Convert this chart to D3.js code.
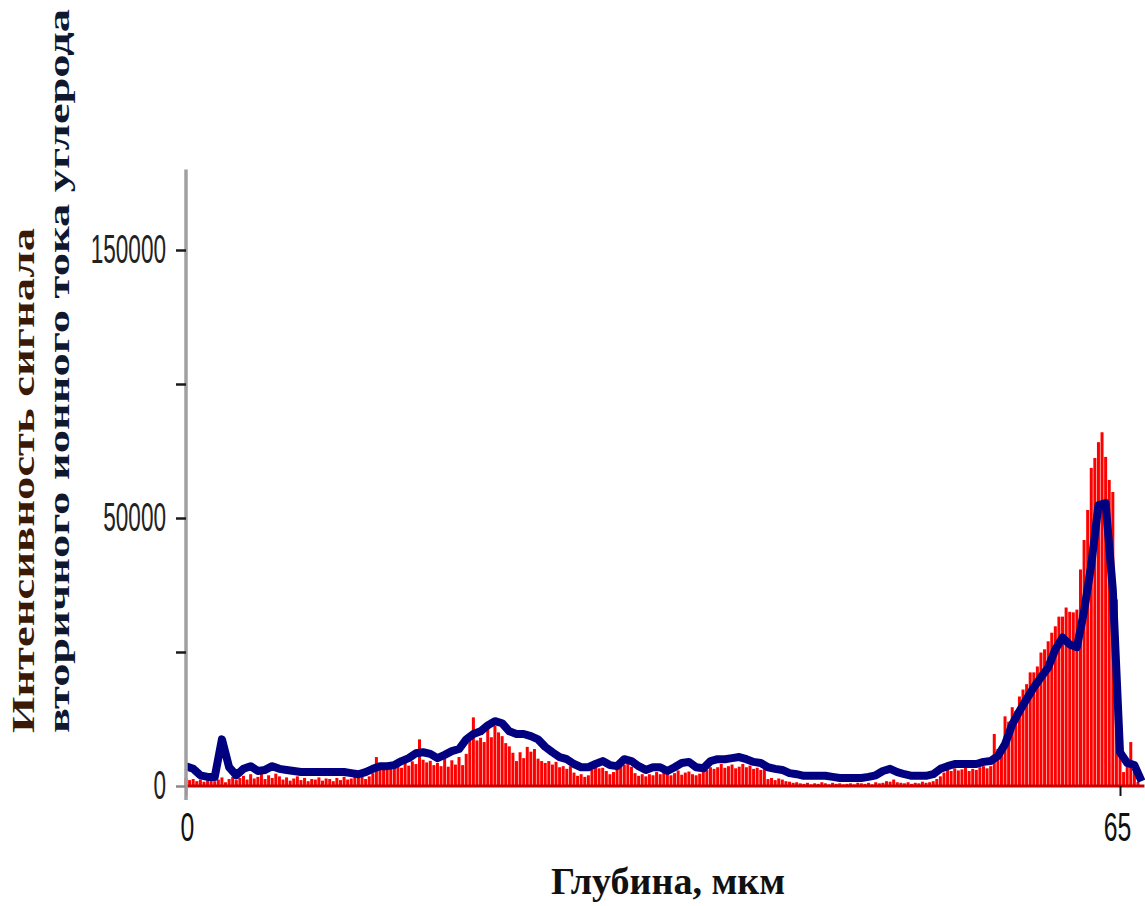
<!DOCTYPE html>
<html>
<head>
<meta charset="utf-8">
<script src="https://cdn.jsdelivr.net/npm/d3@7"></script>
<style>
  html, body { margin: 0; padding: 0; background: #fff; }
  svg { display: block; }
</style>
</head>
<body>
<svg id="chart" width="1145" height="906"></svg>
<script>
// Depth axis ticks (µm) and signal axis ticks with their printed labels
const depthTicks = [0, 65];
const signalTicks = [0, 25000, 50000, 100000, 150000];
const signalTickLabels = ["0", "", "50000", "", "150000"];

// Raw carbon secondary-ion signal, one value every 0.25 µm starting at 0
const redStep = 0.25;
const redSignal = [
  1500, 1100, 1300, 900,      // 0
  1200, 800, 1000, 1400,      // 1
  900, 1200, 1600, 700,       // 2
  1300, 1700, 1100, 1500,     // 3
  1900, 1200, 2200, 1400,     // 4
  1700, 2400, 1300, 2000,     // 5
  1500, 2300, 1800, 1200,     // 6
  1600, 1000, 1400, 1800,     // 7
  1100, 1500, 900, 1300,      // 8
  1200, 1600, 1000, 1400,     // 9
  1300, 900, 1500, 1100,      // 10
  1700, 1200, 1400, 1900,     // 11
  1500, 2100, 1300, 1800,     // 12
  2400, 5400, 3000, 3600,     // 13
  3200, 4100, 3500, 3900,     // 14
  3400, 4300, 3800, 4600,     // 15
  4100, 8700, 4900, 4400,     // 16
  4700, 3900, 4300, 3700,     // 17
  5200, 3600, 4800, 4000,     // 18
  5400, 3900, 6000, 8700,     // 19
  12800, 8500, 9000, 8200,    // 20
  10600, 9100, 11200, 10000,  // 21
  9300, 8000, 7400, 6200,     // 22
  4650, 6300, 5200, 7300,     // 23
  6400, 6900, 5100, 4650,     // 24
  4300, 4650, 4000, 4500,     // 25
  3500, 3700, 3200, 3700,     // 26
  2500, 1900, 2200, 1700,     // 27
  2000, 3000, 3500, 3300,     // 28
  3400, 2800, 2200, 2600,     // 29
  4100, 3700, 4000, 4100,     // 30
  3600, 2400, 1900, 2200,     // 31
  1800, 2200, 2000, 2600,     // 32
  2200, 2900, 2300, 2000,     // 33
  2400, 2900, 2100, 2500,     // 34
  2700, 2200, 2000, 2300,     // 35
  2600, 3000, 3500, 3200,     // 36
  3500, 4100, 3400, 3700,     // 37
  4000, 3300, 3600, 4100,     // 38
  3500, 3800, 3200, 3400,     // 39
  3000, 3500, 1300, 1500,     // 40
  1100, 1400, 1200, 900,      // 41
  800, 600, 700, 500,         // 42
  400, 600, 300, 500,         // 43
  400, 700, 500, 300,         // 44
  600, 400, 500, 300,         // 45
  400, 500, 300, 600,         // 46
  500, 400, 600, 300,         // 47
  700, 500, 600, 900,         // 48
  800, 1200, 700, 600,        // 49
  500, 700, 400, 600,         // 50
  500, 800, 600, 700,         // 51
  900, 1300, 1800, 2500,      // 52
  3200, 2800, 3300, 2900,     // 53
  3100, 3400, 2800, 3200,     // 54
  3000, 3500, 3700, 3300,     // 55
  3700, 9700, 6900, 6900,     // 56
  13000, 12000, 14700, 14000, // 57
  16700, 18000, 19000, 21200, // 58
  21200, 22300, 24900, 25500, // 59
  27000, 28600, 29800, 31600, // 60
  31600, 33300, 32500, 32400, // 61
  32900, 40400, 45900, 53000, // 62
  68700, 72400, 78300, 82000, // 63
  72800, 64200, 59700, 34800, // 64
  5600, 2600, 4500, 8200,     // 65
  2600, 750                   // 66
];

// Smoothed signal, one value every 0.5 µm starting at 0
const blueStep = 0.5;
const blueSignal = [
  3700, 3200, 2000, 1700, 1700, 8700, 3500, 2000, 3200, 3700,        // 0 - 4.5
  2800, 3000, 3700, 3200, 3000, 2800, 2600, 2600, 2600, 2600,        // 5 - 9.5
  2600, 2600, 2600, 2400, 2200, 2600, 3200, 3700, 3700, 3900,        // 10 - 14.5
  4650, 5200, 6100, 6300, 6000, 5200, 5800, 6500, 6900, 8700,        // 15 - 19.5
  9700, 10200, 11300, 12100, 11700, 10200, 9700, 9700, 9300, 8700,   // 20 - 24.5
  7300, 6300, 5400, 5000, 4100, 3500, 3500, 4100, 4650, 3900,        // 25 - 29.5
  3700, 5000, 4650, 3700, 3000, 3500, 3500, 2800, 3500, 4300,        // 30 - 34.5
  4500, 3500, 3300, 4650, 5000, 5000, 5200, 5400, 5000, 4500,        // 35 - 39.5
  4300, 3500, 3200, 3000, 2400, 2200, 1900, 1900, 1900, 1900,        // 40 - 44.5
  1700, 1500, 1500, 1500, 1500, 1700, 2000, 2800, 3200, 2600,        // 45 - 49.5
  2200, 1900, 1900, 1900, 2200, 3200, 3700, 4100, 4100, 4100,        // 50 - 54.5
  4100, 4500, 4650, 5600, 7800, 11500, 13950, 16200, 18400, 20300,   // 55 - 59.5
  22100, 25500, 27700, 26400, 25900, 32600, 41300, 54800, 55600, 36600, // 60 - 64.5
  6300, 4300, 3900, 900                                              // 65 - 66.5
];

const svg = d3.select("#chart");

// Depth scale (µm) and a piecewise-linear signal scale
const x = d3.scaleLinear().domain([0, 65]).range([186, 1120]);
const y = d3.scaleLinear()
  .domain([0, 50000, 150000, 180000])
  .range([786, 518, 250, 169.6]);

// Red bars: raw signal
const bars = svg.append("g").attr("class", "raw");
bars.selectAll("rect")
  .data(redSignal)
  .join("rect")
  .attr("x", (d, i) => x(i * redStep) - 1.5)
  .attr("width", 3.0)
  .attr("y", d => y(d))
  .attr("height", d => y(0) - y(d))
  .attr("fill", "#ff0000");

// Dark red base line under the bars
svg.append("line")
  .attr("x1", x(0)).attr("x2", x(66.7))
  .attr("y1", y(0)).attr("y2", y(0))
  .attr("stroke", "#c40000")
  .attr("stroke-width", 3);

// Blue smoothed line
const line = d3.line()
  .x((d, i) => x(i * blueStep))
  .y(d => y(d));
svg.append("path")
  .datum(blueSignal)
  .attr("d", line)
  .attr("fill", "none")
  .attr("stroke", "#000080")
  .attr("stroke-width", 8)
  .attr("stroke-linejoin", "round")
  .attr("stroke-linecap", "butt");

// Y axis
svg.append("line")
  .attr("x1", x(0)).attr("x2", x(0))
  .attr("y1", y(180000)).attr("y2", y(0) + 14)
  .attr("stroke", "#a0a0a0")
  .attr("stroke-width", 3.5);

// Tick labels use a horizontally condensed face
const ySquash = 0.565;
const xSquash = 0.62;

const yAxis = svg.append("g")
  .attr("transform", `translate(${x(0)},0)`)
  .call(d3.axisLeft(y)
    .tickValues(signalTicks)
    .tickSize(10)
    .tickPadding(10)
    .tickFormat((d, i) => signalTickLabels[i]));
yAxis.select(".domain").remove();
yAxis.selectAll(".tick line")
  .attr("stroke", (d) => d === 0 ? "#888" : "#1a1a1a")
  .attr("stroke-width", 2.5);
yAxis.selectAll(".tick text")
  .attr("fill", "#222")
  .style("font-family", "'Liberation Sans', Arial, sans-serif")
  .style("font-size", "40px")
  .attr("x", -20 / ySquash)
  .attr("transform", `scale(${ySquash},1)`);

// X axis
const xAxis = svg.append("g")
  .attr("transform", `translate(0,${y(0)})`)
  .call(d3.axisBottom(x)
    .tickValues(depthTicks)
    .tickSize(10)
    .tickPadding(17)
    .tickFormat(d3.format("d")));
xAxis.select(".domain").remove();
xAxis.selectAll(".tick line")
  .attr("stroke", d => d === 0 ? "#999" : "#111")
  .attr("stroke-width", 2);
xAxis.selectAll(".tick text")
  .attr("fill", "#111")
  .attr("x", d => (d === 0 ? 1 : -3) / xSquash)
  .attr("transform", `scale(${xSquash},1)`)
  .style("font-family", "'Liberation Sans', Arial, sans-serif")
  .style("font-size", "40px");

// Axis titles
svg.append("text")
  .attr("transform", "translate(34,733) rotate(-90)")
  .attr("text-anchor", "start")
  .attr("textLength", 505)
  .attr("lengthAdjust", "spacingAndGlyphs")
  .style("font-family", "'Liberation Serif', 'Times New Roman', serif")
  .style("font-weight", "bold")
  .style("font-size", "31px")
  .attr("fill", "#3a1a06")
  .text("Интенсивность сигнала");

svg.append("text")
  .attr("transform", "translate(69,733) rotate(-90)")
  .attr("text-anchor", "start")
  .attr("textLength", 724)
  .attr("lengthAdjust", "spacingAndGlyphs")
  .style("font-family", "'Liberation Serif', 'Times New Roman', serif")
  .style("font-weight", "bold")
  .style("font-size", "29px")
  .attr("fill", "#101830")
  .text("вторичного ионного тока углерода");

svg.append("text")
  .attr("x", 668)
  .attr("y", 894)
  .attr("text-anchor", "middle")
  .style("font-family", "'Liberation Serif', 'Times New Roman', serif")
  .style("font-weight", "bold")
  .style("font-size", "38px")
  .attr("fill", "#111")
  .text("Глубина, мкм");
</script>
</body>
</html>
